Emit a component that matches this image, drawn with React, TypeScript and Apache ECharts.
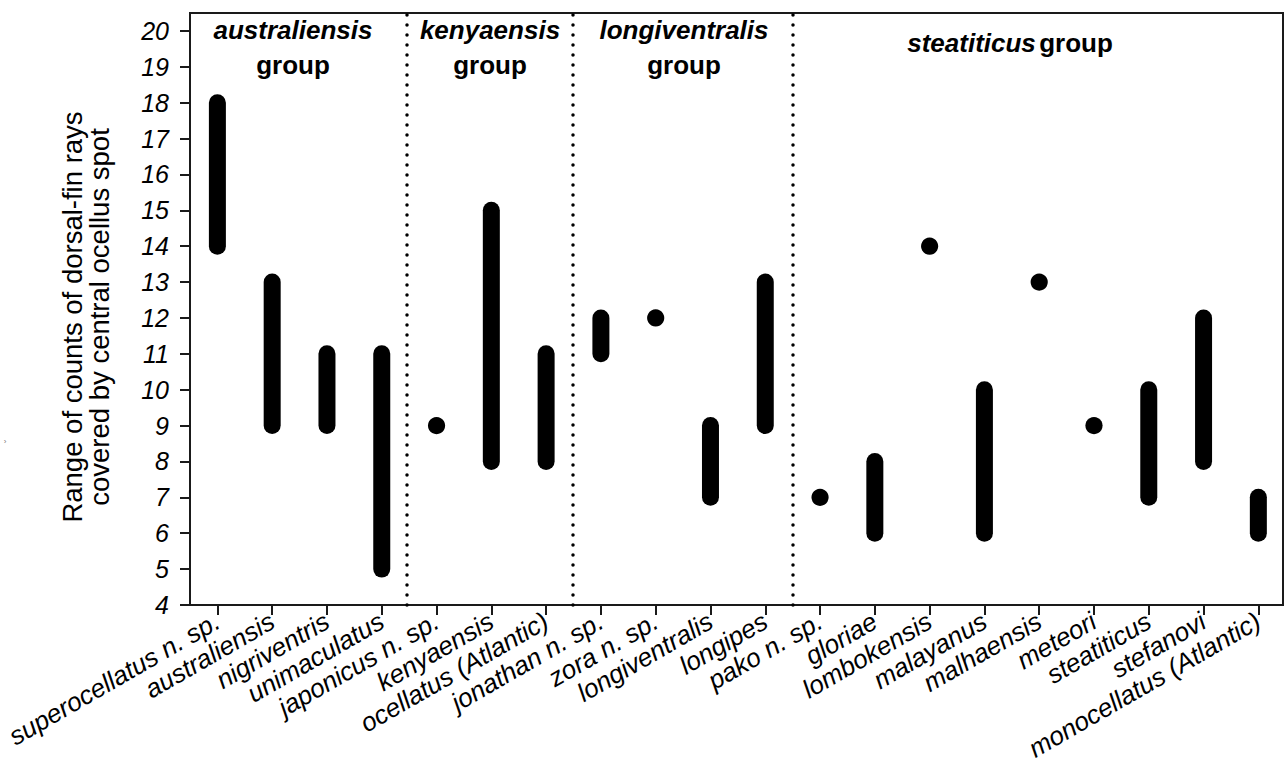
import React, { useEffect, useRef } from "react";
import * as echarts from "echarts";

const species = [
  "superocellatus n. sp.",
  "australiensis",
  "nigriventris",
  "unimaculatus",
  "japonicus n. sp.",
  "kenyaensis",
  "ocellatus (Atlantic)",
  "jonathan n. sp.",
  "zora n. sp.",
  "longiventralis",
  "longipes",
  "pako n. sp.",
  "gloriae",
  "lombokensis",
  "malayanus",
  "malhaensis",
  "meteori",
  "steatiticus",
  "stefanovi",
  "monocellatus (Atlantic)",
];
const minCounts = [14, 9, 9, 5, 9, 8, 8, 11, 12, 7, 9, 7, 6, 14, 6, 13, 9, 7, 8, 6];
const maxCounts = [18, 13, 11, 11, 9, 15, 11, 12, 12, 9, 13, 7, 8, 14, 10, 13, 9, 10, 12, 7];
const groupSeparators = [4.45, 7.48, 11.51];
const yTicks = [4, 5, 6, 7, 8, 9, 10, 11, 12, 13, 14, 15, 16, 17, 18, 19, 20];
const xPositions = species.map((_, i) => i + 1);

const FONT = "Liberation Sans, Arial, sans-serif";

const richTwoLine = {
  i: { fontFamily: FONT, fontSize: 26, fontWeight: "bold", fontStyle: "italic", fill: "#000", lineHeight: 35, align: "center" },
  b: { fontFamily: FONT, fontSize: 26, fontWeight: "bold", fill: "#000", lineHeight: 35, align: "center" },
};

export default function App() {
  const ref = useRef<HTMLDivElement>(null);
  useEffect(() => {
    if (!ref.current) return;
    const chart = echarts.init(ref.current, null, { renderer: "svg" });
    const data = species.map((_, i) => [i + 1, minCounts[i], maxCounts[i]]);
    chart.setOption({
      animation: false,
      backgroundColor: "#fff",
      grid: {
        left: 190,
        top: 13,
        right: 4,
        bottom: 162,
        show: true,
        borderColor: "#1a1a1a",
        borderWidth: 2,
        backgroundColor: "transparent",
      },
      xAxis: {
        type: "value",
        min: 0.5,
        max: 20.45,
        splitLine: { show: false },
        axisLine: { show: true, lineStyle: { color: "#1a1a1a", width: 2 } },
        axisTick: {
          show: true,
          length: 10,
          customValues: xPositions,
          lineStyle: { color: "#1a1a1a", width: 2 },
        },
        axisLabel: {
          customValues: xPositions,
          formatter: (v: number) => species[Math.round(v) - 1] ?? "",
          rotate: 30,
          margin: 14,
          fontFamily: FONT,
          fontStyle: "italic",
          fontSize: 26,
          color: "#000",
        },
      },
      yAxis: {
        type: "value",
        min: 4,
        max: 20.5,
        splitLine: { show: false },
        axisLine: { show: true, lineStyle: { color: "#1a1a1a", width: 2 } },
        axisTick: {
          show: true,
          length: 10,
          customValues: yTicks,
          lineStyle: { color: "#1a1a1a", width: 2 },
        },
        axisLabel: {
          customValues: yTicks,
          margin: 21,
          fontFamily: FONT,
          fontStyle: "italic",
          fontSize: 25,
          color: "#000",
        },
      },
      series: [
        {
          type: "custom",
          data,
          renderItem: (params: any, api: any) => {
            const x = api.value(0);
            const lo = api.value(1);
            const hi = api.value(2);
            const p1 = api.coord([x, lo]);
            const p2 = api.coord([x, hi]);
            if (lo === hi) {
              return {
                type: "circle",
                shape: { cx: p1[0], cy: p1[1], r: 8.6 },
                style: { fill: "#000" },
              };
            }
            return {
              type: "line",
              shape: { x1: p1[0], y1: p1[1], x2: p2[0], y2: p2[1] },
              style: { stroke: "#000", lineWidth: 17, lineCap: "round" },
            };
          },
          markLine: {
            silent: true,
            symbol: ["none", "none"],
            label: { show: false },
            lineStyle: {
              color: "#000",
              width: 3.5,
              type: [0.1, 9.9],
              cap: "round",
            },
            data: groupSeparators.map((v) => ({ xAxis: v })),
          },
        },
      ],
      graphic: [
        {
          type: "text",
          x: 86,
          y: 317,
          rotation: Math.PI / 2,
          style: {
            text: "Range of counts of dorsal-fin rays\ncovered by central ocellus spot",
            fontFamily: FONT,
            fontSize: 27.5,
            lineHeight: 27,
            fill: "#000",
            textAlign: "center",
            textVerticalAlign: "middle",
          },
        },
        {
          type: "text",
          x: 293,
          y: 47,
          style: {
            text: "{i|australiensis}\n{b|group}",
            textAlign: "center",
            textVerticalAlign: "middle",
            rich: richTwoLine,
          },
        },
        {
          type: "text",
          x: 490,
          y: 47,
          style: {
            text: "{i|kenyaensis}\n{b|group}",
            textAlign: "center",
            textVerticalAlign: "middle",
            rich: richTwoLine,
          },
        },
        {
          type: "text",
          x: 684,
          y: 47,
          style: {
            text: "{i|longiventralis}\n{b|group}",
            textAlign: "center",
            textVerticalAlign: "middle",
            rich: richTwoLine,
          },
        },
        {
          type: "text",
          x: 1010,
          y: 43,
          style: {
            text: "{i|steatiticus} {b|group}",
            textAlign: "center",
            textVerticalAlign: "middle",
            rich: {
              i: { fontFamily: FONT, fontSize: 26, fontWeight: "bold", fontStyle: "italic", fill: "#000" },
              b: { fontFamily: FONT, fontSize: 26, fontWeight: "bold", fill: "#000" },
            },
          },
        },
        {
          type: "text",
          x: 5,
          y: 441,
          style: {
            text: "›",
            fontFamily: FONT,
            fontSize: 8,
            fill: "#777",
            textAlign: "center",
            textVerticalAlign: "middle",
          },
        },
      ],
    });
    return () => chart.dispose();
  }, []);
  return (
    <div
      ref={ref}
      style={{ position: "fixed", left: 0, top: 0, width: 1287, height: 767, background: "#fff" }}
    />
  );
}
